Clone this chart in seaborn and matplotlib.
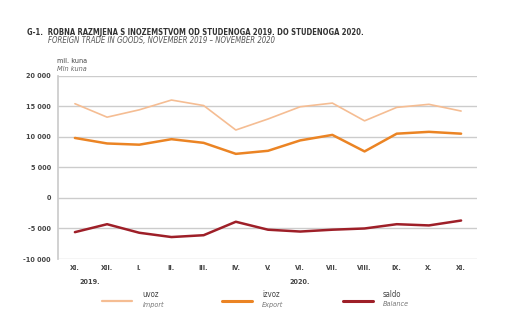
import pandas as pd
import seaborn as sns
import matplotlib.pyplot as plt
from matplotlib.lines import Line2D

# monthly data, Nov 2019 - Nov 2020, mil. kuna
months = ["XI.", "XII.", "I.", "II.", "III.", "IV.", "V.", "VI.", "VII.", "VIII.", "IX.", "X.", "XI."]
uvoz = [15400, 13200, 14400, 16000, 15100, 11100, 12900, 14900, 15500, 12600, 14800, 15300, 14200]
izvoz = [9800, 8900, 8700, 9600, 9000, 7200, 7700, 9400, 10300, 7600, 10500, 10800, 10500]
saldo = [-5600, -4300, -5700, -6400, -6100, -3900, -5200, -5500, -5200, -5000, -4300, -4500, -3700]
series_hr = ["uvoz", "izvoz", "saldo"]
series_en = ["Import", "Export", "Balance"]
colors = ["#F5BD93", "#EB8424", "#9E1F28"]
yticks = [-10000, -5000, 0, 5000, 10000, 15000, 20000]

sns.set_theme(style="white")
plt.rcParams['font.family'] = ['DejaVu Sans']
plt.rcParams['font.stretch'] = 'condensed'

df = pd.DataFrame({"idx": list(range(len(months))) * 3,
                   "value": uvoz + izvoz + saldo,
                   "series": [s for s in series_hr for _ in months]})

fig = plt.figure(figsize=(5.12, 3.11), dpi=100)
ax = fig.add_axes([0.113, 0.167, 0.819, 0.59])
lw = {"uvoz": 1.2, "izvoz": 1.8, "saldo": 1.8}
for name, col in zip(series_hr, colors):
    sns.lineplot(data=df[df.series == name], x="idx", y="value", color=col,
                 linewidth=lw[name], ax=ax, legend=False)

ax.set_xlim(-0.53, 12.5)
ax.set_ylim(-10000, 20000)
ax.set_yticks(yticks)
ax.set_yticklabels([f"{v:,}".replace(",", " ") for v in yticks], fontsize=5.2,
                   color="#444444", fontweight="bold")
ax.set_xticks(range(len(months)))
ax.set_xticklabels(months, fontsize=5.2, color="#444444", fontweight="bold")
ax.tick_params(axis="x", length=0, pad=4)
ax.tick_params(axis="y", length=0, pad=5)
ax.grid(axis="y", color="#cccccc", linewidth=1)
for s in ["top", "right", "bottom"]:
    ax.spines[s].set_visible(False)
ax.spines["left"].set_color("#cccccc")
ax.set_xlabel("")
ax.set_ylabel("")

# years under the month labels
ax.text(0.45, -0.125, "2019.", transform=ax.get_xaxis_transform(), ha="center",
        va="center", fontsize=5.2, color="#444444", fontweight="bold")
ax.text(7, -0.125, "2020.", transform=ax.get_xaxis_transform(), ha="center",
        va="center", fontsize=5.2, color="#444444", fontweight="bold")

# titles
fig.text(0.053, 0.897, "G-1.  ROBNA RAZMJENA S INOZEMSTVOM OD STUDENOGA 2019. DO STUDENOGA 2020.",
         fontsize=5.5, fontweight="bold", color="#333333", va="center")
fig.text(0.094, 0.871, "FOREIGN TRADE IN GOODS, NOVEMBER 2019 – NOVEMBER 2020",
         fontsize=5.6, style="italic", color="#555555", va="center")
fig.text(0.112, 0.804, "mil. kuna", fontsize=5.2, color="#444444", va="center")
fig.text(0.112, 0.779, "Mln kuna", fontsize=5.2, style="italic", color="#666666", va="center")

# legend
lx = [0.2, 0.434, 0.67]
for x0, hr, en, col, name in zip(lx, series_hr, series_en, colors, series_hr):
    fig.add_artist(Line2D([x0, x0 + 0.058], [0.032, 0.032], color=col,
                          linewidth=lw[name] + 0.4, transform=fig.transFigure))
    fig.text(x0 + 0.078, 0.053, hr, fontsize=5.6, color="#444444", va="center")
    fig.text(x0 + 0.078, 0.021, en, fontsize=5.2, style="italic", color="#777777", va="center")

fig.savefig("out.png", dpi=100, facecolor="white")
